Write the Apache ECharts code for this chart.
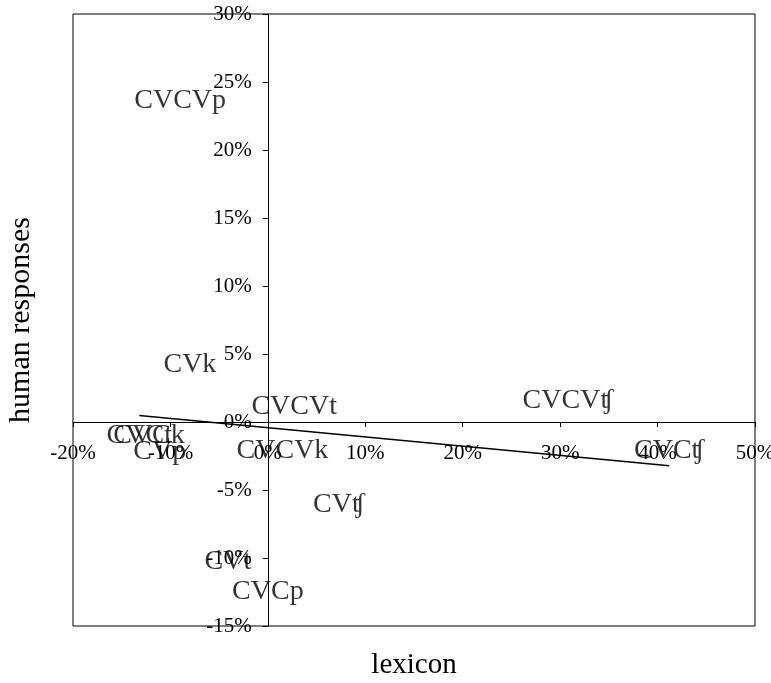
<!DOCTYPE html>
<html>
<head>
<meta charset="utf-8">
<script src="https://cdn.jsdelivr.net/npm/echarts@6/dist/echarts.min.js"></script>
<style>
  html, body { margin: 0; padding: 0; background: #fff; }
  #chart { width: 771px; height: 683px; }
</style>
</head>
<body>
<div id="chart"></div>
<script>
// syllable types, lexicon share vs human responses (percent)
const names = ["CVCVp", "CVk", "CVCVt", "CVCVʧ", "CVCʧ", "CVCVk", "CVCt", "CVCk", "CVp", "CVʧ", "CVt", "CVCp"];
const lexicon = [-9.0, -8.0, 2.7, 30.8, 41.2, 1.5, -13.2, -12.2, -11.1, 7.3, -4.1, 0.0];
const human = [23.6, 4.2, 1.1, 1.6, -2.1, -2.1, -1.0, -1.0, -2.2, -6.1, -10.3, -12.5];

const font = "'Liberation Serif', 'Times New Roman', serif";

// linear trend line (least squares) over the data range
const n = lexicon.length;
const mx = lexicon.reduce((a, b) => a + b, 0) / n;
const my = human.reduce((a, b) => a + b, 0) / n;
let sxy = 0, sxx = 0;
for (let i = 0; i < n; i++) {
  sxy += (lexicon[i] - mx) * (human[i] - my);
  sxx += (lexicon[i] - mx) * (lexicon[i] - mx);
}
const slope = sxy / sxx;
const icpt = my - slope * mx;
const xMin = Math.min(...lexicon);
const xMax = Math.max(...lexicon);
const trend = [
  [xMin, icpt + slope * xMin],
  [xMax, icpt + slope * xMax],
];

// plot box in pixels; the axes cross at 0 so they are shifted in by offset
const G = { left: 73, right: 16, top: 14, bottom: 57 };
const plotW = 771 - G.left - G.right;
const plotH = 683 - G.top - G.bottom;
const xOff = -plotW * (0 - -20) / 70;   // y axis moved to x = 0
const yOff = -plotH * (0 - -15) / 45;   // x axis moved to y = 0

const chart = echarts.init(document.getElementById("chart"));
chart.setOption({
  backgroundColor: "#fff",
  animation: false,
  textStyle: { fontFamily: font },
  grid: {
    left: G.left,
    right: G.right,
    top: G.top,
    bottom: G.bottom,
    containLabel: false,
    outerBoundsMode: "none",
    show: true,
    borderColor: "#000",
    borderWidth: 1,
  },
  xAxis: {
    type: "value",
    min: -20,
    max: 50,
    interval: 10,
    position: "bottom",
    offset: yOff,
    name: "lexicon",
    nameLocation: "middle",
    nameGap: 229,
    nameTextStyle: { fontFamily: font, fontSize: 29, color: "#000" },
    axisLine: { onZero: false, lineStyle: { color: "#000", width: 1 } },
    axisTick: { show: true, length: 5, lineStyle: { color: "#000" } },
    axisLabel: {
      formatter: (v) => v + "%",
      fontFamily: font,
      fontSize: 21,
      color: "#000",
      margin: 21,
    },
    splitLine: { show: false },
  },
  yAxis: {
    type: "value",
    min: -15,
    max: 30,
    interval: 5,
    position: "left",
    offset: xOff,
    name: "human responses",
    nameLocation: "middle",
    nameGap: 232,
    nameTextStyle: { fontFamily: font, fontSize: 30, color: "#000" },
    axisLine: { onZero: false, lineStyle: { color: "#000", width: 1 } },
    axisTick: { show: true, length: 5, lineStyle: { color: "#000" } },
    axisLabel: {
      formatter: (v) => v + "%",
      fontFamily: font,
      fontSize: 21,
      color: "#000",
      margin: 16,
    },
    splitLine: { show: false },
  },
  series: [
    {
      type: "scatter",
      symbolSize: 1,
      itemStyle: { color: "rgba(0,0,0,0)" },
      data: lexicon.map((x, i) => ({ value: [x, human[i]], name: names[i] })),
      label: {
        show: true,
        position: "inside",
        formatter: (p) => p.name,
        fontFamily: font,
        fontSize: 28,
        color: "#000",
        textBorderWidth: 0,
      },
      z: 3,
    },
    {
      type: "line",
      data: trend,
      symbol: "none",
      lineStyle: { color: "#000", width: 1.5 },
      z: 4,
    },
  ],
});
</script>
</body>
</html>
